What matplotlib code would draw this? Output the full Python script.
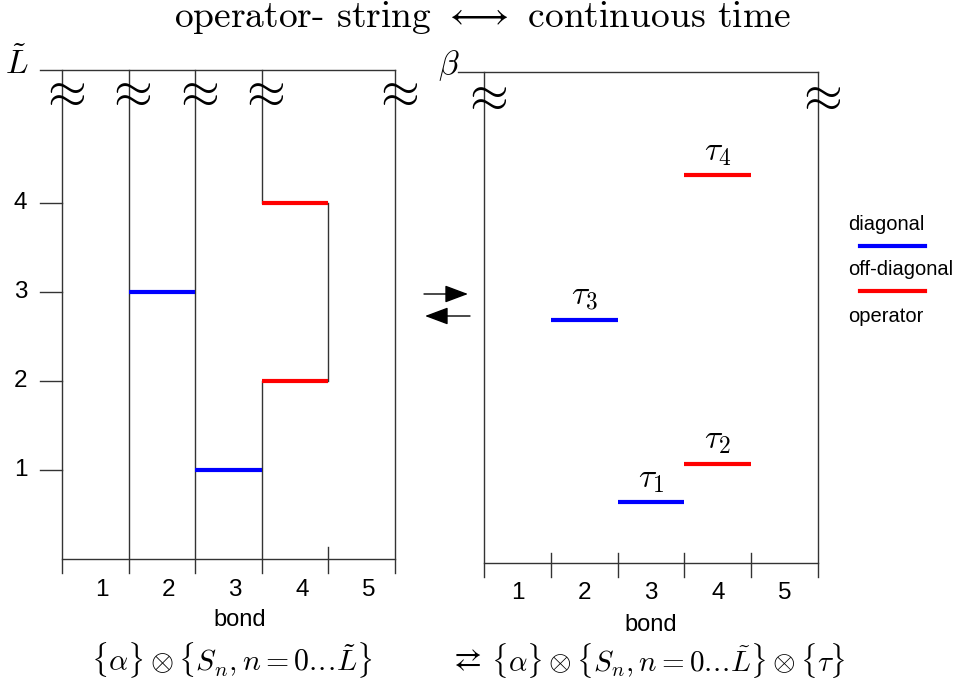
import matplotlib
matplotlib.use("Agg")
import matplotlib.pyplot as plt
from matplotlib.lines import Line2D
from matplotlib.patches import FancyArrowPatch

plt.rcParams['mathtext.fontset'] = 'cm'
plt.rcParams['font.family'] = ['Liberation Sans', 'DejaVu Sans']

# operator string (left): bond index, level, kind
op_bonds = [2, 3, 4, 4]
op_levels = [3, 1, 2, 4]
op_kinds = ['diag', 'diag', 'off', 'off']

# continuous time (right): bond index, tau / beta, kind
tau_bonds = [3, 4, 2, 4]
tau_values = [0.124, 0.202, 0.495, 0.790]
tau_kinds = ['diag', 'off', 'diag', 'off']
tau_names = [r'$\tau_1$', r'$\tau_2$', r'$\tau_3$', r'$\tau_4$']

n_bonds = 5
L_top = 5.5
level_ticks = [1, 2, 3, 4]
worldline_sites = [1, 2, 3]
hop_from, hop_to = 3, 4

colors = {'diag': '#0000ff', 'off': '#ff0000'}
line_col = '#333333'

W, H = 966, 689
fig = plt.figure(figsize=(W / 100, H / 100), dpi=100)


def fx(x):
    return x / W


def fy(y):
    return 1 - y / H


kw = dict(color=line_col, lw=1.0, clip_on=False)

# ---------------- left panel ----------------
ax1 = fig.add_axes([fx(62), fy(559), 333 / W, 489.5 / H])
ax1.set_xlim(0, n_bonds)
ax1.set_ylim(0, L_top)
ax1.axis('off')
tb = -0.16

ax1.plot([-0.33, n_bonds], [L_top, L_top], **kw)
ax1.plot([0, n_bonds], [0, 0], **kw)
for x in [0, n_bonds]:
    ax1.plot([x, x], [tb, L_top], **kw)

hop_levels = sorted(l for l, k in zip(op_levels, op_kinds) if k == 'off')
for s in worldline_sites:
    if s == hop_from:
        ax1.plot([s, s], [tb, hop_levels[0]], **kw)
        ax1.plot([s, s], [hop_levels[1], L_top], **kw)
        ax1.plot([hop_to, hop_to], [hop_levels[0], hop_levels[1]], **kw)
    else:
        ax1.plot([s, s], [tb, L_top], **kw)
ax1.plot([hop_to, hop_to], [tb, 0.135], **kw)

for b, l, k in zip(op_bonds, op_levels, op_kinds):
    ax1.plot([b - 1, b], [l, l], color=colors[k], lw=3, solid_capstyle='butt')

for l in level_ticks:
    ax1.plot([-0.33, 0], [l, l], **kw)
    ax1.text(-0.62, l, str(l), ha='center', va='center', fontsize=17.5)

for b in range(1, n_bonds + 1):
    ax1.text(b - 0.5 + 0.1, -0.35, str(b), ha='center', va='center', fontsize=17.5)

for x in [0] + worldline_sites + [n_bonds]:
    ax1.text(x, 5.24, r'$\approx$', ha='center', va='center', fontsize=36)

# ---------------- right panel ----------------
ax2 = fig.add_axes([fx(484), fy(563), 334 / W, 491 / H])
ax2.set_xlim(0, n_bonds)
ax2.set_ylim(0, 1)
ax2.axis('off')
tb2 = -0.029

ax2.plot([-0.39, n_bonds], [1, 1], **kw)
ax2.plot([0, n_bonds], [0, 0], **kw)
for x in [0, n_bonds]:
    ax2.plot([x, x], [tb2, 1], **kw)
for x in range(1, n_bonds):
    ax2.plot([x, x], [tb2, 0.02], **kw)

for b, t, k, name in zip(tau_bonds, tau_values, tau_kinds, tau_names):
    ax2.plot([b - 1, b], [t, t], color=colors[k], lw=3, solid_capstyle='butt')
    ax2.text(b - 0.5, t + 0.047, name, ha='center', va='center', fontsize=24)

for b in range(1, n_bonds + 1):
    ax2.text(b - 0.5, -0.062, str(b), ha='center', va='center', fontsize=17.5)

for x in [0, n_bonds]:
    ax2.text(x, 0.949, r'$\approx$', ha='center', va='center', fontsize=36)

# ---------------- labels ----------------
fig.text(fx(483), fy(18), r'operator- string $\longleftrightarrow$ continuous time',
         ha='center', va='center', fontsize=27, family='cmr10')
fig.text(fx(17), fy(64), r'$\tilde{L}$', ha='center', va='center', fontsize=24)
fig.text(fx(449), fy(66), r'$\beta$', ha='center', va='center', fontsize=24)
fig.text(fx(240), fy(620), 'bond', ha='center', va='center', fontsize=17)
fig.text(fx(651), fy(625), 'bond', ha='center', va='center', fontsize=17)

fig.text(fx(232), fy(660), r'$\{\alpha\}\otimes\{S_n,n=0.\!.\!.\!\tilde{L}\}$',
         ha='center', va='center', fontsize=21.5)
fig.text(fx(465), fy(660), r'$\rightleftarrows$', ha='center', va='center', fontsize=22)
fig.text(fx(668), fy(660), r'$\{\alpha\}\otimes\{S_n,n=0.\!.\!.\!\tilde{L}\}\otimes\{\tau\}$',
         ha='center', va='center', fontsize=21)

# arrows between panels
arrow_style = '-|>,head_length=0.8,head_width=0.3'
fig.add_artist(FancyArrowPatch(
    (fx(424), fy(294)), (fx(468), fy(294)), transform=fig.transFigure,
    arrowstyle=arrow_style, color='black', lw=1, mutation_scale=18,
    shrinkA=0, shrinkB=0))
fig.add_artist(FancyArrowPatch(
    (fx(470), fy(316)), (fx(425), fy(316)), transform=fig.transFigure,
    arrowstyle=arrow_style, color='black', lw=1, mutation_scale=18,
    shrinkA=0, shrinkB=0))

# legend
fig.text(fx(848), fy(225), 'diagonal', ha='left', va='center', fontsize=14.5)
fig.add_artist(Line2D([fx(860), fx(925)], [fy(246), fy(246)], color=colors['diag'], lw=3))
fig.text(fx(848), fy(269), 'off-diagonal', ha='left', va='center', fontsize=14.5)
fig.add_artist(Line2D([fx(860), fx(925)], [fy(291), fy(291)], color=colors['off'], lw=3))
fig.text(fx(848), fy(316), 'operator', ha='left', va='center', fontsize=14.5)

fig.savefig('out.png', dpi=100)
